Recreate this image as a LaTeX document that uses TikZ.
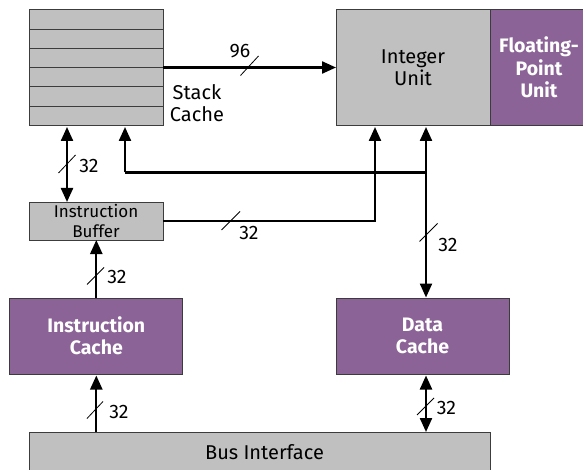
\documentclass[tikz,border=0pt]{standalone}
\usepackage{fontspec}
\setmainfont{Fira Sans}
\usetikzlibrary{arrows.meta}
\definecolor{boxgray}{RGB}{192,192,192}
\definecolor{unitpurple}{RGB}{139,99,150}
\definecolor{edgegray}{RGB}{60,60,60}
\tikzset{
  greybox/.style={draw=edgegray, line width=0.8pt, fill=boxgray, inner sep=0pt, outer sep=0pt, align=center, font=\fontsize{20}{22.5}\selectfont},
  purplebox/.style={draw=edgegray, line width=0.8pt, fill=unitpurple, text=white, inner sep=0pt, outer sep=0pt, align=center, font=\bfseries\fontsize{19.5}{22.5}\selectfont},
  bus/.style={line width=2.3pt, -{Triangle[length=14pt,width=12pt]}},
  bibus/.style={line width=2.3pt, {Triangle[length=14pt,width=12pt]}-{Triangle[length=14pt,width=12pt]}},
  plain/.style={line width=2.3pt},
  buswidth/.style={line width=0.8pt},
  widthlabel/.style={font=\fontsize{19.5}{22}\selectfont, inner sep=0pt}
}
\begin{document}
\begin{tikzpicture}[x=1pt,y=-1pt]
\useasboundingbox (0,0) rectangle (583,470);

% blocks
\node[greybox, minimum width=134pt, minimum height=116pt] (stack) at (96,67.5) {};
\foreach \yy in {29.3,48.5,67.7,86.8,106} \draw[edgegray, line width=0.8pt] (29,\yy) -- (163,\yy);
\node[greybox, minimum width=154pt, minimum height=116pt] (int) at (413,67.5) {Integer\\Unit};
\node[purplebox, minimum width=98pt, minimum height=116pt] (fp) at (539,67.5) {Floating-\\Point\\Unit};
\node[greybox, minimum width=134pt, minimum height=38pt, font=\fontsize{17}{19.5}\selectfont] (buf) at (96,221) {Instruction\\Buffer};
\node[purplebox, minimum width=173pt, minimum height=76pt] (icache) at (96.3,336) {Instruction\\Cache};
\node[purplebox, minimum width=173pt, minimum height=76pt] (dcache) at (422.5,336) {Data\\Cache};
\node[greybox, minimum width=461pt, minimum height=44pt] (bif) at (259.5,454) {};
\node[inner sep=0pt, font=\fontsize{20}{22.5}\selectfont] (biftext) at (264.5,452.5) {Bus Interface};
\node[align=center, inner sep=0pt, font=\fontsize{20}{21.7}\selectfont] (stacklbl) at (197,103) {Stack\\Cache};

% bus columns
\coordinate (xa) at (67,0);
\coordinate (xb) at (125,0);
\coordinate (xc) at (375,0);
\coordinate (xd) at (426,0);
\coordinate (tap) at (426,172.5);

% connectors
\draw[bus] (stack.east) -- (int.west);
\draw[bibus, shorten <=1.5pt] (stack.south -| xa) -- (buf.north -| xa);
\draw[bibus, shorten <=1.5pt, shorten >=0.5pt] (int.south -| xd) -- (dcache.north -| xd);
\draw[plain] (tap) -- (tap -| xb);
\draw[bus, shorten >=1.5pt] (tap -| xb) -- (stack.south -| xb);
\draw[bus, shorten >=1.5pt] (buf.east) -| (int.south -| xc);
\draw[bus] (icache.north) -- (buf.south -| icache.north);
\draw[bus, shorten >=1.5pt] (bif.north -| icache.south) -- (icache.south);
\draw[bibus, shorten >=1.5pt] (bif.north -| xd) -- (dcache.south -| xd);

% bus width marks
\draw[buswidth] (240.5,75.5) -- (258.5,56);
\node[widthlabel] (w96) at (240,51) {96};
\draw[buswidth] (58.5,173) -- (75.5,155);
\node[widthlabel] (wa) at (89,165.5) {32};
\draw[buswidth] (221.5,230) -- (240,211.5);
\node[widthlabel] (wc) at (249,232.5) {32};
\draw[buswidth] (419.5,241.5) -- (437.5,223.5);
\node[widthlabel] (wd) at (448,245) {32};
\draw[buswidth] (87,284.5) -- (104,267.5);
\node[widthlabel] (we) at (117,277) {32};
\draw[buswidth] (87,418.5) -- (103,401.5);
\node[widthlabel] (wf) at (119,411.5) {32};
\draw[buswidth] (417,415) -- (434,398);
\node[widthlabel] (wg) at (446.5,408) {32};
\end{tikzpicture}
\end{document}
